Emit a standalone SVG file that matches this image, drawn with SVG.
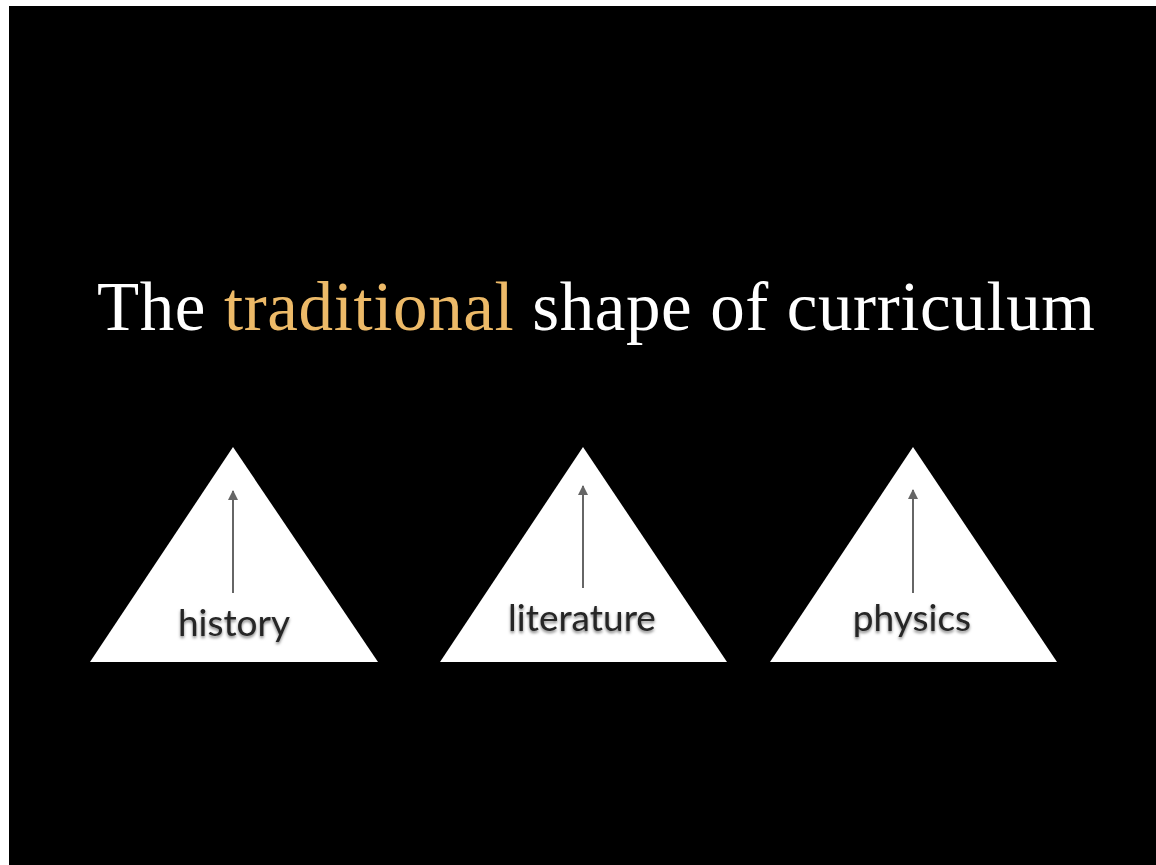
<svg xmlns="http://www.w3.org/2000/svg" width="1156" height="865" viewBox="0 0 1156 865">
<style>
.tri{fill:#ffffff}
.lbl{font-family:Lato,"Open Sans",sans-serif;font-size:37px;fill:#262626;text-anchor:middle}
.title{font-family:"Liberation Serif",serif;font-size:69px;fill:#ffffff}
.arr{stroke:#666666;stroke-width:2;fill:none}
</style>
<defs>
<marker id="ah" viewBox="0 0 10 10" refX="9" refY="5" markerWidth="5" markerHeight="5" orient="auto" markerUnits="strokeWidth">
<path d="M0,0 L10,5 L0,10 z" fill="#666666"/>
</marker>
<filter id="sh" x="-10%" y="-20%" width="120%" height="150%">
<feDropShadow dx="0" dy="2" stdDeviation="1.5" flood-color="#000" flood-opacity="0.5"/>
</filter>
</defs>
<rect x="0" y="0" width="1156" height="865" fill="#ffffff"/>
<rect x="9" y="6" width="1147" height="859" fill="#000000"/>
<text class="title" x="97" y="330" textLength="998">The <tspan fill="#EDBA68">traditional</tspan> shape of curriculum</text>
<g id="history">
<polygon class="tri" points="233,447 90,662 378,662"/>
<text class="lbl" x="234" y="636" filter="url(#sh)">history</text>
</g>
<g id="literature">
<polygon class="tri" points="583,447 440,662 727,662"/>
<text class="lbl" x="582" y="631" filter="url(#sh)">literature</text>
</g>
<g id="physics">
<polygon class="tri" points="913,447 770,662 1057,662"/>
<text class="lbl" x="912" y="631" filter="url(#sh)">physics</text>
</g>
<g id="connectors">
<line class="arr" x1="233" y1="593" x2="233" y2="491" marker-end="url(#ah)"/>
<line class="arr" x1="583" y1="588" x2="583" y2="486" marker-end="url(#ah)"/>
<line class="arr" x1="913" y1="593" x2="913" y2="490" marker-end="url(#ah)"/>
</g>
</svg>
